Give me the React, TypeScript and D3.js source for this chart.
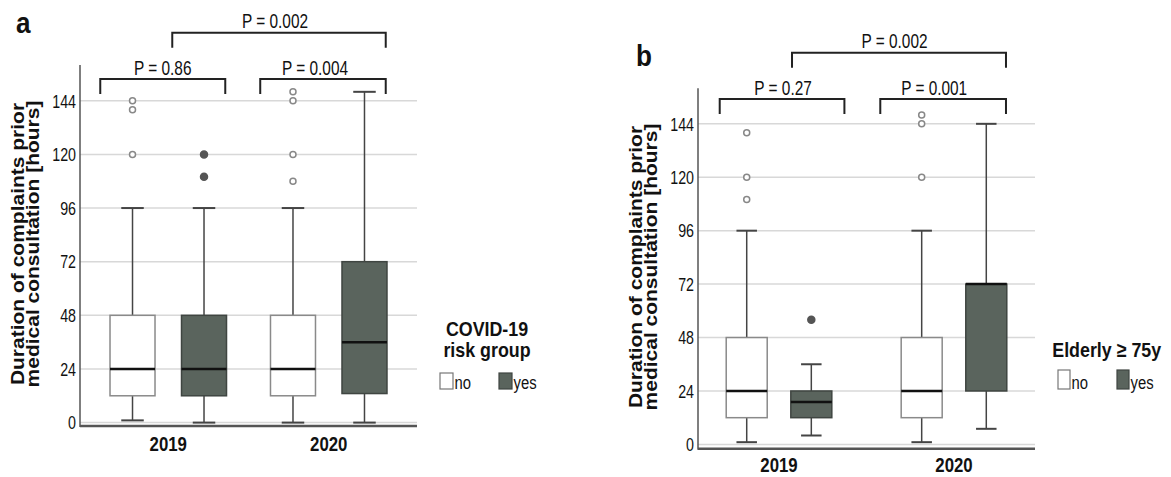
import React from "react";
import * as d3 from "d3";

// ---- data ----
const years = ["2019", "2020"];
const groups = ["no", "yes"];
const yTicks = [0, 24, 48, 72, 96, 120, 144];

// panel a: COVID-19 risk group (order: 2019-no, 2019-yes, 2020-no, 2020-yes)
const aLow = [1, 0, 0, 0];
const aQ1 = [12, 12, 12, 13];
const aMedian = [24, 24, 24, 36];
const aQ3 = [48, 48, 48, 72];
const aHigh = [96, 96, 96, 148];
const aOutliers = [[120, 140, 144], [110, 120], [108, 120, 144, 148], []];
const aPvalues = ["P = 0.86", "P = 0.004", "P = 0.002"];

// panel b: Elderly >= 75y
const bLow = [1, 4, 1, 7];
const bQ1 = [12, 12, 12, 24];
const bMedian = [24, 19, 24, 72];
const bQ3 = [48, 24, 48, 72];
const bHigh = [96, 36, 96, 144];
const bOutliers = [[110, 120, 140], [56], [120, 144, 148], []];
const bPvalues = ["P = 0.27", "P = 0.001", "P = 0.002"];

const DARK = "#5a645d";
const FONT = "'Liberation Sans', Arial, sans-serif";

function T({ x, y, anchor = "start", size = 18, bold = false, sx = 0.78, children }: any) {
  return (
    <text
      transform={`translate(${x},${y}) scale(${sx},1)`}
      textAnchor={anchor}
      fontSize={size}
      fontWeight={bold ? "bold" : "normal"}
      fill="#111"
    >
      {children}
    </text>
  );
}

function Panel({ cfg }: any) {
  const y = d3.scaleLinear().domain([0, 160]).range([cfg.y0, cfg.yTop]);
  const xYear = d3.scalePoint<string>().domain(years).range([cfg.xLeft, cfg.xRight]).padding(cfg.pad);
  const xGroup = d3.scalePoint<string>().domain(groups).range([-cfg.goff, cfg.goff]);
  const boxes: any[] = [];
  years.forEach((yr, i) => {
    groups.forEach((g, j) => {
      const k = i * 2 + j;
      boxes.push({
        cx: (xYear(yr) as number) + (xGroup(g) as number),
        g,
        low: cfg.low[k], q1: cfg.q1[k], med: cfg.med[k], q3: cfg.q3[k], high: cfg.high[k],
        out: cfg.out[k],
      });
    });
  });
  const bw = cfg.bw;
  const cap = bw / 2;
  const c19 = xYear("2019") as number;
  const c20 = xYear("2020") as number;
  const br = cfg.br;
  const brackets = [
    { x1: c19 + br[0][0], x2: c19 + br[0][1], top: cfg.brLow, dx: br[0][2], label: cfg.p[0] },
    { x1: c20 + br[1][0], x2: c20 + br[1][1], top: cfg.brLow, dx: br[1][2], label: cfg.p[1] },
    { x1: c19 + br[2][0], x2: c20 + br[2][1], top: cfg.brHigh, dx: br[2][2], label: cfg.p[2] },
  ];
  return (
    <g fontFamily={FONT}>
      {/* gridlines */}
      {yTicks.map((t) => (
        <line key={t} x1={cfg.xLeft} x2={cfg.xRight} y1={y(t)} y2={y(t)} stroke="#d8d8d8" strokeWidth={1.5} />
      ))}
      {/* axes */}
      <line x1={cfg.xLeft} x2={cfg.xLeft} y1={cfg.yTop} y2={cfg.yAxis + 1} stroke="#555" strokeWidth={1.5} />
      <line x1={cfg.xLeft} x2={cfg.xRight} y1={cfg.yAxis} y2={cfg.yAxis} stroke="#555" strokeWidth={2.5} />
      {yTicks.map((t) => (
        <T key={t} x={cfg.xLeft - 4} y={y(t) + 6.8} anchor="end" size={19} sx={0.75}>{t}</T>
      ))}
      {years.map((yr) => (
        <T key={yr} x={xYear(yr)} y={cfg.yearY} anchor="middle" size={21} bold sx={0.8}>{yr}</T>
      ))}
      {/* y title */}
      <g transform={`translate(${cfg.titleX},${cfg.titleY}) scale(0.87,1) rotate(-90)`} fontSize={21} fontWeight="bold" fill="#111">
        <text textAnchor="middle" y={0}>Duration of complaints prior</text>
        <text textAnchor="middle" y={17.5}>medical consultation [hours]</text>
      </g>
      {/* boxes */}
      {boxes.map((b, i) => {
        const dark = b.g === "yes";
        return (
          <g key={i}>
            <line x1={b.cx} x2={b.cx} y1={y(b.high)} y2={y(b.q3)} stroke="#444" strokeWidth={1.5} />
            <line x1={b.cx} x2={b.cx} y1={y(b.q1)} y2={y(b.low)} stroke="#444" strokeWidth={1.5} />
            <line x1={b.cx - cap / 2} x2={b.cx + cap / 2} y1={y(b.high)} y2={y(b.high)} stroke="#444" strokeWidth={2} />
            <line x1={b.cx - cap / 2} x2={b.cx + cap / 2} y1={y(b.low)} y2={y(b.low)} stroke="#444" strokeWidth={2} />
            <rect x={b.cx - bw / 2} y={y(b.q3)} width={bw} height={y(b.q1) - y(b.q3)}
              fill={dark ? DARK : "#fff"} stroke={dark ? "#3f4541" : "#8a8a8a"} strokeWidth={1.5} />
            <line x1={b.cx - bw / 2} x2={b.cx + bw / 2} y1={y(b.med)} y2={y(b.med)} stroke="#111" strokeWidth={2.5} />
            {b.out.map((o: number, k: number) => (
              <circle key={k} cx={b.cx} cy={y(o)} r={dark ? 3.5 : 3}
                fill={dark ? "#555" : "#fff"} stroke={dark ? "#555" : "#888"} strokeWidth={1.5} />
            ))}
          </g>
        );
      })}
      {/* brackets */}
      {brackets.map((b, i) => (
        <g key={i}>
          <path d={`M${b.x1},${b.top + 15}V${b.top}H${b.x2}V${b.top + 15}`} fill="none" stroke="#222" strokeWidth={2} />
          <T x={(b.x1 + b.x2) / 2 + b.dx} y={b.top - 4.5} anchor="middle" size={20} sx={0.77}>{b.label}</T>
        </g>
      ))}
      {/* panel label */}
      <T x={cfg.labelX} y={cfg.labelY} size={30} bold sx={0.87}>{cfg.label}</T>
      {/* legend */}
      {cfg.legendTitle.map((l: string, i: number) => (
        <T key={i} x={cfg.legX} y={cfg.legY + i * 21.5} anchor="middle" size={21} bold sx={0.85}>{l}</T>
      ))}
      {groups.map((g, i) => (
        <g key={g}>
          <rect x={cfg.swX[i]} y={cfg.swY} width={cfg.swW} height={cfg.swH}
            fill={g === "yes" ? DARK : "#fff"} stroke={g === "yes" ? "#3f4541" : "#777"} strokeWidth={1.2} />
          <T x={cfg.swX[i] + cfg.swW + 1.5} y={cfg.swY + cfg.swH} size={19} sx={0.78}>{g}</T>
        </g>
      ))}
    </g>
  );
}

const cfgA = {
  label: "a", labelX: 16, labelY: 33,
  low: aLow, q1: aQ1, med: aMedian, q3: aQ3, high: aHigh, out: aOutliers, p: aPvalues,
  y0: 422.6, yTop: 65, yAxis: 426, xLeft: 80, xRight: 417, pad: 0.55, goff: 35.75, bw: 45,
  yearY: 451, titleX: 24, titleY: 244,
  br: [[-68, 57, 0], [-68.5, 57, -8], [4, 57, -4]], brLow: 79, brHigh: 32.7,
  legendTitle: ["COVID-19", "risk group"], legX: 487, legY: 335.5,
  swX: [440, 499], swY: 373, swW: 13, swH: 16,
};
const cfgB = {
  label: "b", labelX: 636, labelY: 66,
  low: bLow, q1: bQ1, med: bMedian, q3: bQ3, high: bHigh, out: bOutliers, p: bPvalues,
  y0: 444.4, yTop: 88.2, yAxis: 448.7, xLeft: 698, xRight: 1035, pad: 0.463, goff: 32.3, bw: 41,
  yearY: 472, titleX: 642, titleY: 267,
  br: [[-59.3, 65.4, 1], [-73.7, 52, -9], [13, 52, -4.5]], brLow: 99, brHigh: 52.7,
  legendTitle: ["Elderly ≥ 75y"], legX: 1106.7, legY: 356.5,
  swX: [1058, 1117], swY: 370, swW: 12, swH: 19,
};

export default function App() {
  return (
    <svg width={1171} height={477} style={{ position: "absolute", left: 0, top: 0, background: "#fff" }}>
      <rect width={1171} height={477} fill="#fff" />
      <Panel cfg={cfgA} />
      <Panel cfg={cfgB} />
    </svg>
  );
}
